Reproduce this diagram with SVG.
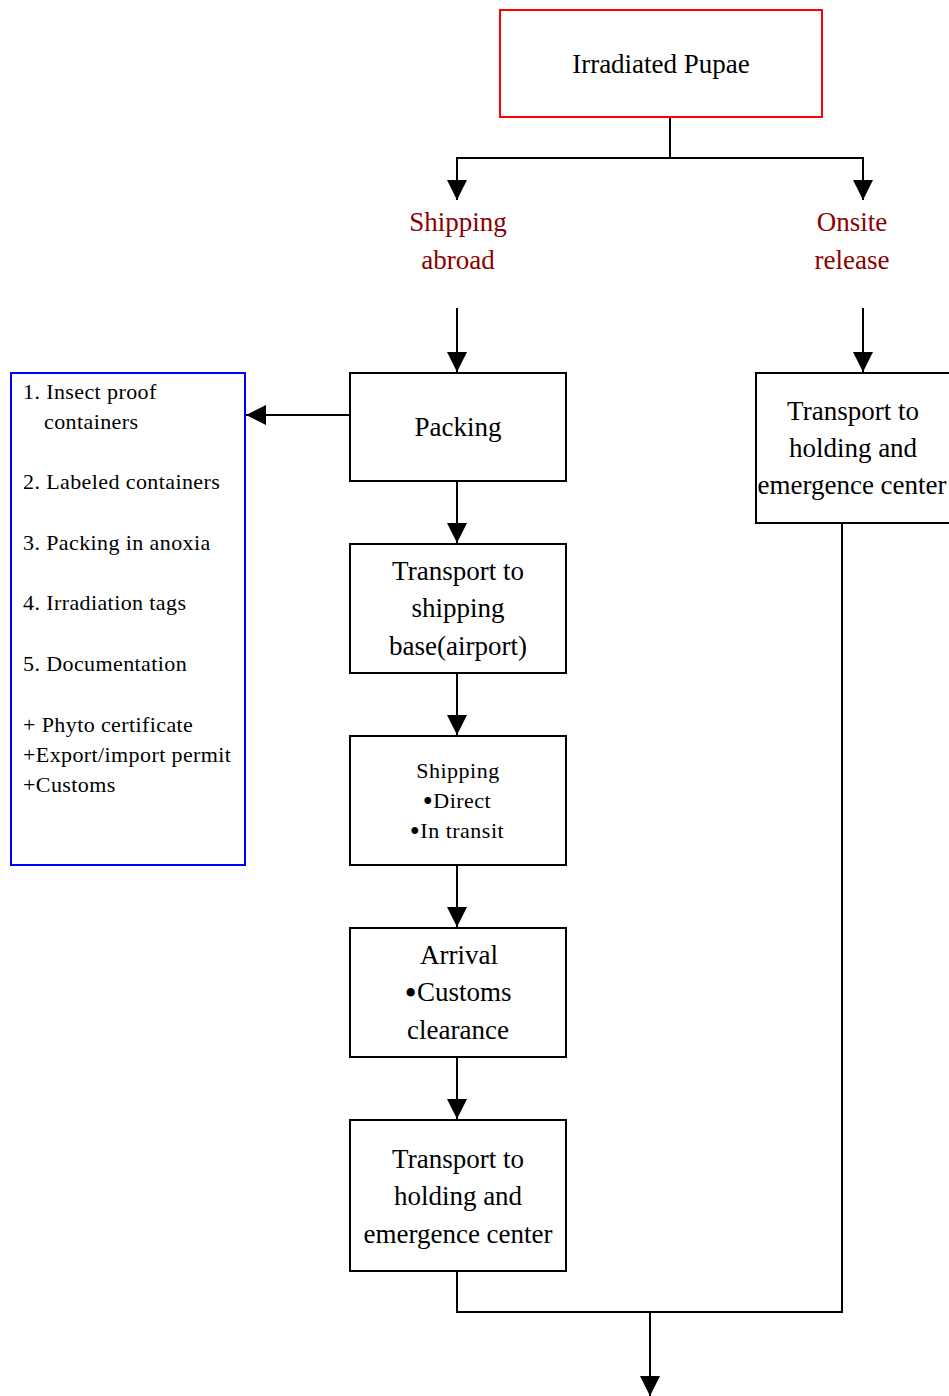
<svg xmlns="http://www.w3.org/2000/svg" width="949" height="1396" viewBox="0 0 949 1396">
  <style>
    .box { fill: #fff; stroke: #000; stroke-width: 2; }
    .red { fill: #fff; stroke: #f00; stroke-width: 2; }
    .blue { fill: #fff; stroke: #00f; stroke-width: 2; }
    .t { font-family: "Liberation Serif", "Times New Roman", serif; fill: #000; }
    .big { font-size: 27px; text-anchor: middle; }
    .mid { font-size: 22px; letter-spacing: 0.5px; text-anchor: middle; }
    .lst { font-size: 22px; letter-spacing: 0.4px; }
    .lbl { font-family: "Liberation Serif", "Times New Roman", serif; font-size: 27px; fill: #8b0000; text-anchor: middle; }
    .ln { fill: none; stroke: #000; stroke-width: 2; }
    .dot { font-size: 1.3em; baseline-shift: -0.12em; }
  </style>
  <defs>
    <marker id="ah" markerUnits="userSpaceOnUse" markerWidth="20" markerHeight="20" viewBox="0 0 20 20" refX="20" refY="10" orient="auto">
      <path d="M0,0 L20,10 L0,20 Z" fill="#000"/>
    </marker>
  </defs>

  <g id="connectors">
    <polyline class="ln" points="670,117 670,158 457,158 457,200" marker-end="url(#ah)"/>
    <polyline class="ln" points="670,158 863,158 863,200" marker-end="url(#ah)"/>
    <line class="ln" x1="457" y1="308" x2="457" y2="372" marker-end="url(#ah)"/>
    <line class="ln" x1="863" y1="308" x2="863" y2="372" marker-end="url(#ah)"/>
    <line class="ln" x1="350" y1="415" x2="246" y2="415" marker-end="url(#ah)"/>
    <line class="ln" x1="457" y1="481" x2="457" y2="543" marker-end="url(#ah)"/>
    <line class="ln" x1="457" y1="673" x2="457" y2="735" marker-end="url(#ah)"/>
    <line class="ln" x1="457" y1="865" x2="457" y2="927" marker-end="url(#ah)"/>
    <line class="ln" x1="457" y1="1057" x2="457" y2="1119" marker-end="url(#ah)"/>
    <polyline class="ln" points="457,1271 457,1312 842,1312 842,523"/>
    <line class="ln" x1="650" y1="1312" x2="650" y2="1396" marker-end="url(#ah)"/>
  </g>

  <g id="irradiated-pupae">
    <rect class="red" x="500" y="10" width="322" height="107"/>
    <text class="t big" x="661" y="73">Irradiated Pupae</text>
  </g>

  <g id="shipping-abroad">
    <text class="lbl" x="458" y="231">Shipping</text>
    <text class="lbl" x="458" y="269">abroad</text>
  </g>

  <g id="onsite-release">
    <text class="lbl" x="852" y="231">Onsite</text>
    <text class="lbl" x="852" y="269">release</text>
  </g>

  <g id="packing">
    <rect class="box" x="350" y="373" width="216" height="108"/>
    <text class="t big" x="458" y="436">Packing</text>
  </g>

  <g id="packing-list">
    <rect class="blue" x="11" y="373" width="234" height="492"/>
    <text class="t lst" x="23" y="399">1. Insect proof</text>
    <text class="t lst" x="44" y="429">containers</text>
    <text class="t lst" x="23" y="489">2. Labeled containers</text>
    <text class="t lst" x="23" y="550">3. Packing in anoxia</text>
    <text class="t lst" x="23" y="610">4. Irradiation tags</text>
    <text class="t lst" x="23" y="671">5. Documentation</text>
    <text class="t lst" x="23" y="732">+ Phyto certificate</text>
    <text class="t lst" x="23" y="762">+Export/import permit</text>
    <text class="t lst" x="23" y="792">+Customs</text>
  </g>

  <g id="transport-airport">
    <rect class="box" x="350" y="544" width="216" height="129"/>
    <text class="t big" x="458" y="580">Transport to</text>
    <text class="t big" x="458" y="617">shipping</text>
    <text class="t big" x="458" y="655">base(airport)</text>
  </g>

  <g id="shipping">
    <rect class="box" x="350" y="736" width="216" height="129"/>
    <text class="t mid" x="458" y="778">Shipping</text>
    <text class="t mid" x="457" y="808"><tspan class="dot">•</tspan>Direct</text>
    <text class="t mid" x="457" y="838"><tspan class="dot">•</tspan>In transit</text>
  </g>

  <g id="arrival">
    <rect class="box" x="350" y="928" width="216" height="129"/>
    <text class="t big" x="459" y="964">Arrival</text>
    <text class="t big" x="458" y="1001"><tspan class="dot">•</tspan>Customs</text>
    <text class="t big" x="458" y="1039">clearance</text>
  </g>

  <g id="transport-holding-abroad">
    <rect class="box" x="350" y="1120" width="216" height="151"/>
    <text class="t big" x="458" y="1168">Transport to</text>
    <text class="t big" x="458" y="1205">holding and</text>
    <text class="t big" x="458" y="1243">emergence center</text>
  </g>

  <g id="transport-holding-onsite">
    <rect class="box" x="756" y="373" width="200" height="150"/>
    <text class="t big" x="853" y="420">Transport to</text>
    <text class="t big" x="853" y="457">holding and</text>
    <text class="t big" x="852" y="494">emergence center</text>
  </g>
</svg>
